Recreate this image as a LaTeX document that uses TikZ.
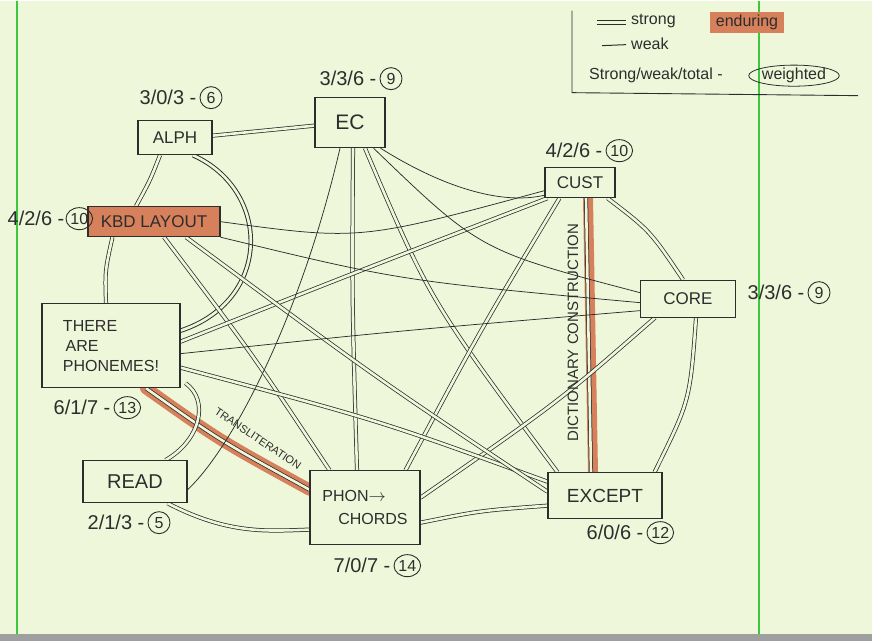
\documentclass[tikz,border=0pt]{standalone}
\usepackage{fontspec}
\setmainfont{Liberation Sans}
\usetikzlibrary{calc,shapes.geometric,positioning}
\definecolor{paper}{RGB}{239,247,218}
\definecolor{pencil}{RGB}{45,45,45}
\definecolor{marker}{RGB}{214,128,92}
\definecolor{margin}{RGB}{60,200,60}
\pgfdeclarelayer{paperl}
\pgfdeclarelayer{edgel}
\pgfsetlayers{paperl,edgel,main}
\begin{document}
\begin{tikzpicture}[x=1pt,y=-1pt,
  box/.style={draw=pencil, line width=1.1pt, fill=paper, inner sep=2pt, text=pencil, font=\fontsize{17}{19}\selectfont},
  strong/.style={draw=pencil, line width=0.75pt, double=paper, double distance=2.6pt},
  weak/.style={draw=pencil, line width=0.75pt},
  hilite/.style={draw=marker, line width=10pt, line cap=round},
  lbl/.style={text=pencil, inner sep=1pt, font=\fontsize{20}{20}\selectfont},
  ring/.style={ellipse, draw=pencil, line width=0.9pt, inner sep=0.5pt, minimum width=22pt, minimum height=22pt, text=pencil, font=\fontsize{16}{16}\selectfont},
  elab/.style={text=pencil, inner sep=1pt, font=\fontsize{11}{11}\selectfont},
  leg/.style={text=pencil, inner sep=1pt, font=\fontsize{16}{16}\selectfont}
]
\begin{pgfonlayer}{paperl}
\fill[paper] (0,0) rectangle (872,640);
\fill[gray!75] (0,633) rectangle (872,640);
\draw[margin, line width=1.3pt] (17,0) -- (17,633);
\draw[margin, line width=1.3pt] (759,0) -- (759,633);
\end{pgfonlayer}

% nodes
\node[box, minimum width=74pt, minimum height=34pt] (alph) at (175,137) {ALPH};
\node[box, minimum width=70pt, minimum height=50pt, font=\fontsize{21}{21}\selectfont] (ec) at (350,122) {EC};
\node[box, minimum width=70pt, minimum height=30pt] (cust) at (580,182) {CUST};
\node[box, fill=marker, minimum width=132pt, minimum height=30pt] (kbd) at (154,221) {KBD LAYOUT};
\node[box, minimum width=95pt, minimum height=37pt] (core) at (688,298) {CORE};
\node[box, minimum width=138pt, minimum height=84pt, align=left, font=\fontsize{16}{20}\selectfont] (there) at (111,345) {THERE\\\,ARE\\PHONEMES!};
\node[box, minimum width=104pt, minimum height=42pt, font=\fontsize{20}{20}\selectfont] (read) at (135,481) {READ};
\node[box, minimum width=110pt, minimum height=74pt, align=left, font=\fontsize{16}{23}\selectfont] (phon) at (365,507) {PHON$\rightarrow$\\\quad CHORDS};
\node[box, minimum width=114pt, minimum height=46pt, font=\fontsize{19}{19}\selectfont] (except) at (605,495) {EXCEPT};

% scores
\node[lbl] (alphs) at (168,97) {3/0/3 -};
\node[ring, right=2pt of alphs] (alphw) {6};
\node[lbl] (ecs) at (348,78) {3/3/6 -};
\node[ring, right=2pt of ecs] (ecw) {9};
\node[lbl] (custs) at (574,150) {4/2/6 -};
\node[ring, right=2pt of custs] (custw) {10};
\node[lbl] (kbds) at (36,218) {4/2/6 -};
\node[ring, right=0pt of kbds] (kbdw) {10};
\node[lbl] (cores) at (776,292) {3/3/6 -};
\node[ring, right=2pt of cores] (corew) {9};
\node[lbl] (theres) at (82,407) {6/1/7 -};
\node[ring, right=2pt of theres] (therew) {13};
\node[lbl] (reads) at (116,522) {2/1/3 -};
\node[ring, right=2pt of reads] (readw) {5};
\node[lbl] (phons) at (362,565) {7/0/7 -};
\node[ring, right=2pt of phons] (phonw) {14};
\node[lbl] (excepts) at (615,532) {6/0/6 -};
\node[ring, right=2pt of excepts] (exceptw) {12};

% legend
\draw[pencil, line width=0.9pt] (572,10) -- (572,92) -- (858,95);
\coordinate (ls1) at (597,22); \coordinate (ls2) at (626,22);
\coordinate (lw1) at (602,45); \coordinate (lw2) at (626,44);
\node[leg, anchor=west] (lstrong) at (630,20) {strong};
\node[leg, anchor=west] (lweak) at (630,43) {weak};
\node[leg, fill=marker, inner xsep=6pt, inner ysep=3pt] (lend) at (747,22) {enduring};
\node[leg, anchor=west] (ltot) at (588,75) {Strong/weak/total -};
\node[leg, ellipse, draw=pencil, line width=0.8pt, inner sep=0pt] (lwt) at (794,75) {weighted};

\begin{pgfonlayer}{edgel}
\draw[strong, line width=1pt] (ls1) -- (ls2);
\draw[weak, line width=1pt] (lw1) -- (lw2);
% highlights
\draw[hilite] ($(cust.south)+(8,0)$) -- ($(except.north)+(-12,0)$);
\draw[hilite, line width=12pt] ($(there.south)+(35,0)$) .. controls (220,440) .. ($(phon.west)+(0,-18)$);
% strong
\draw[strong] ($(alph.east)+(0,-2)$) -- ($(ec.west)+(0,3)$);
\draw[strong] ($(alph.south)+(-15,0)$) .. controls (150,180) .. ($(kbd.north)+(-18,0)$);
\draw[strong, line width=0.95pt] ($(alph.south)+(18,0)$) .. controls (272,190) and (272,300) .. ($(there.east)+(0,-15)$);
\draw[strong] ($(ec.south)+(3,0)$) .. controls (352,300) .. ($(phon.north)+(-8,0)$);
\draw[strong] ($(ec.south)+(15,0)$) .. controls (430,300) .. ($(except.north west)+(10,0)$);
\draw[strong] ($(cust.south east)+(-8,0)$) .. controls (650,230) .. ($(core.north)+(-5,0)$);
\draw[strong] ($(cust.south)+(6,0)$) -- ($(except.north)+(-14,0)$);
\draw[strong] ($(core.south)+(8,0)$) .. controls (690,400) .. ($(except.north east)+(-8,0)$);
\draw[strong] ($(core.south west)+(15,0)$) .. controls (560,400) .. ($(phon.east)+(0,-10)$);
\draw[strong] ($(there.south)+(35,0)$) .. controls (220,440) .. ($(phon.west)+(0,-18)$);
\draw[strong] ($(kbd.south)+(10,0)$) .. controls (250,350) .. ($(phon.north west)+(20,0)$);
\draw[strong] ($(read.south east)+(-20,0)$) .. controls (230,535) and (270,530) .. ($(phon.west)+(0,22)$);
\draw[strong] ($(cust.south west)+(15,0)$) .. controls (480,330) .. ($(phon.north east)+(-15,0)$);
\draw[strong] ($(phon.east)+(0,15)$) .. controls (480,510) .. ($(except.west)+(0,10)$);
\draw[strong] ($(kbd.south west)+(25,0)$) .. controls (105,270) .. ($(there.north)+(-5,0)$);
\draw[strong] ($(there.east)+(0,-4)$) .. controls (360,270) .. ($(cust.south west)+(3,0)$);
\draw[strong] ($(there.east)+(0,22)$) .. controls (380,420) .. ($(except.west)+(0,-14)$);
\draw[strong] ($(there.south east)+(5,-5)$) .. controls (210,400) and (200,440) .. ($(read.north east)+(-22,0)$);
\draw[strong] ($(kbd.south)+(32,0)$) .. controls (380,380) .. ($(except.west)+(0,-4)$);
% weak
\draw[weak] ($(ec.south east)+(-5,0)$) .. controls (440,185) and (500,205) .. ($(cust.south west)+(0,-3)$);
\draw[weak] (kbd.south east) .. controls (400,280) .. ($(core.west)+(0,4)$);
\draw[weak] ($(ec.south east)+(-12,0)$) .. controls (480,250) .. ($(core.west)+(0,-6)$);
\draw[weak] ($(ec.south)+(-10,0)$) .. controls (300,320) and (230,450) .. ($(read.east)+(0,8)$);
\draw[weak] ($(there.east)+(0,8)$) .. controls (400,330) .. ($(core.west)+(0,12)$);
\draw[weak] (kbd.east) .. controls (360,240) .. ($(cust.west)+(0,8)$);
\end{pgfonlayer}

% edge labels
\node[elab, rotate=-34] (translit) at (258,438) {TRANSLITERATION};
\node[elab, rotate=90, font=\fontsize{15}{15}\selectfont] (dict) at (573,332) {DICTIONARY CONSTRUCTION};
\end{tikzpicture}
\end{document}
